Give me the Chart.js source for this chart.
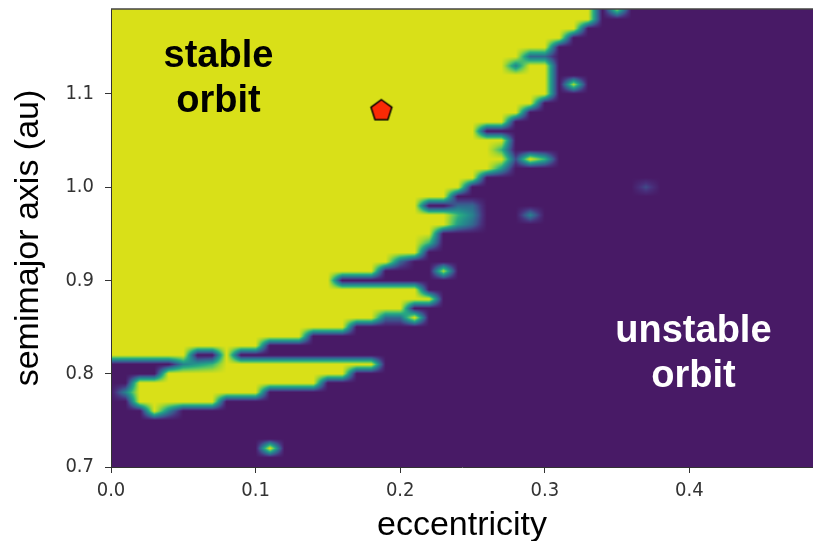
<!DOCTYPE html>
<html>
<head>
<meta charset="utf-8">
<script src="https://cdn.jsdelivr.net/npm/chart.js@4.4.0/dist/chart.umd.min.js"></script>
<style>
  html, body { margin: 0; padding: 0; background: #fff; overflow: hidden; }
  canvas { display: block; }
</style>
</head>
<body>
<canvas id="myChart" width="813" height="541"></canvas>
<script>
// grid columns (eccentricity) and rows (semimajor axis, top to bottom)
const eccentricity = [0.00, 0.01, 0.02, 0.03, 0.04, 0.05, 0.06, 0.07, 0.08, 0.09,
  0.10, 0.11, 0.12, 0.13, 0.14, 0.15, 0.16, 0.17, 0.18, 0.19,
  0.20, 0.21, 0.22, 0.23, 0.24, 0.25, 0.26, 0.27, 0.28, 0.29,
  0.30, 0.31, 0.32, 0.33, 0.34, 0.35, 0.36, 0.37, 0.38, 0.39,
  0.40, 0.41, 0.42, 0.43, 0.44, 0.45, 0.46, 0.47, 0.48, 0.49];
const semimajor = [1.19, 1.18, 1.17, 1.16, 1.15, 1.14, 1.13, 1.12, 1.11, 1.10,
  1.09, 1.08, 1.07, 1.06, 1.05, 1.04, 1.03, 1.02, 1.01, 1.00,
  0.99, 0.98, 0.97, 0.96, 0.95, 0.94, 0.93, 0.92, 0.91, 0.90,
  0.89, 0.88, 0.87, 0.86, 0.85, 0.84, 0.83, 0.82, 0.81, 0.80,
  0.79, 0.78, 0.77, 0.76, 0.75, 0.74, 0.73, 0.72, 0.71, 0.70];

// stability per cell, 0 (unstable) .. 9 (stable), one string per semimajor row
const stability = [
  "9999999999 9999999999 9999999999 9999070000 0000000000", // 1.19
  "9999999999 9999999999 9999999999 9999000000 0000000000",
  "9999999999 9999999999 9999999999 9990000000 0000000000",
  "9999999999 9999999999 9999999999 9900000000 0000000000",
  "9999999999 9999999999 9999999999 9000000000 0000000000",
  "9999999999 9999999999 9999999993 3000000000 0000000000", // 1.14
  "9999999999 9999999999 9999999949 9000000000 0000000000",
  "9999999999 9999999999 9999999999 9000000000 0000000000",
  "9999999999 9999999999 9999999999 9080000000 0000000000",
  "9999999999 9999999999 9999999999 9000000000 0000000000", // 1.10
  "9999999999 9999999999 9999999999 0000000000 0000000000",
  "9999999999 9999999999 9999999990 0000000000 0000000000",
  "9999999999 9999999999 9999999900 0000000000 0000000000",
  "9999999999 9999999999 9999990000 0000000000 0000000000",
  "9999999999 9999999999 9999999900 0000000000 0000000000", // 1.05
  "9999999999 9999999999 9999999600 0000000000 0000000000",
  "9999999999 9999999999 9999999929 6000000000 0000000000",
  "9999999999 9999999999 9999999500 0000000000 0000000000",
  "9999999999 9999999999 9999990000 0000000000 0000000000",
  "9999999999 9999999999 9999900000 0000000200 0000000000", // 1.00
  "9999999999 9999999999 9999000000 0000000000 0000000000",
  "9999999999 9999999999 9900330000 0000000000 0000000000",
  "9999999999 9999999999 9999640004 0000000000 0000000000",
  "9999999999 9999999999 9999530000 0000000000 0000000000",
  "9999999999 9999999999 9990000000 0000000000 0000000000", // 0.95
  "9999999999 9999999999 9960000000 0000000000 0000000000",
  "9999999999 9999999999 9900000000 0000000000 0000000000",
  "9999999999 9999999999 3000000000 0000000000 0000000000",
  "9999999999 9999999990 0008000000 0000000000 0000000000",
  "9999999999 9999990000 0000000000 0000000000 0000000000", // 0.90
  "9999999999 9999999999 9900000000 0000000000 0000000000",
  "9999999999 9999999999 9990000000 0000000000 0000000000",
  "9999999999 9999999999 9000000000 0000000000 0000000000",
  "9999999999 9999999993 3900000000 0000000000 0000000000",
  "9999999999 9999999000 0000000000 0000000000 0000000000", // 0.85
  "9999999999 9999000000 0000000000 0000000000 0000000000",
  "9999999999 9000000000 0000000000 0000000000 0000000000",
  "9999990090 0000000000 0000000000 0000000000 0000000000",
  "0000045699 9999999990 0000000000 0000000000 0000000000",
  "0000999999 9999999000 0000000000 0000000000 0000000000", // 0.80
  "0099999999 9999900000 0000000000 0000000000 0000000000",
  "0499999999 9000000000 0000000000 0000000000 0000000000",
  "0099999900 0000000000 0000000000 0000000000 0000000000",
  "0009400000 0000000000 0000000000 0000000000 0000000000",
  "0000000000 0000000000 0000000000 0000000000 0000000000", // 0.75
  "0000000000 0000000000 0000000000 0000000000 0000000000",
  "0000000000 0000000000 0000000000 0000000000 0000000000",
  "0000000000 0900000000 0000000000 0000000000 0000000000",
  "0000000000 0000000000 0000000000 0000000000 0000000000",
  "0000000000 0000000000 0000000000 0000000000 0000000000"  // 0.70
];

const xTicks = [0.0, 0.1, 0.2, 0.3, 0.4];
const yTicks = [0.7, 0.8, 0.9, 1.0, 1.1];

// the planet
const planetE = [0.187];
const planetA = [1.082];

// region labels
const labelLines = [["stable", "orbit"], ["unstable", "orbit"]];
const labelE = [0.0743, 0.4028];
const labelA = [1.1157, 0.8209];
const labelColor = ["#000000", "#ffffff"];

const grid = stability.map(r => r.replace(/ /g, "").split("").map(c => Number(c) / 9));

// viridis-like colour ramp as it looks in the picture
const ramp = [[72, 26, 102], [72, 48, 124], [60, 84, 140], [45, 114, 142], [36, 142, 139],
  [40, 170, 128], [92, 198, 98], [163, 215, 48], [217, 224, 24]];
const lut = [];
for (let i = 0; i < 256; i++) {
  const t = i / 255 * (ramp.length - 1);
  const k = Math.min(Math.floor(t), ramp.length - 2);
  const f = t - k;
  lut.push(ramp[k].map((c, j) => Math.round(c + (ramp[k + 1][j] - c) * f)));
}

const stabilityMap = {
  id: "stabilityMap",
  beforeDraw(chart) {
    const { ctx, chartArea: area, scales: { x, y } } = chart;
    const w = Math.round(area.right - area.left);
    const h = Math.round(area.bottom - area.top);
    const img = ctx.createImageData(w, h);
    const nC = eccentricity.length, nR = semimajor.length;
    const de = eccentricity[1] - eccentricity[0];
    const da = semimajor[1] - semimajor[0];
    const cols = [];
    for (let px = 0; px < w; px++) {
      const e = x.getValueForPixel(area.left + px + 0.5);
      const fc = Math.max(0, Math.min(nC - 1, (e - eccentricity[0]) / de));
      const c0 = Math.min(Math.floor(fc), nC - 2);
      cols.push([c0, fc - c0]);
    }
    for (let py = 0; py < h; py++) {
      const a = y.getValueForPixel(area.top + py + 0.5);
      const fr = Math.max(0, Math.min(nR - 1, (a - semimajor[0]) / da));
      const r0 = Math.min(Math.floor(fr), nR - 2);
      const tr = fr - r0;
      const g0 = grid[r0], g1 = grid[r0 + 1];
      for (let px = 0; px < w; px++) {
        const [c0, tc] = cols[px];
        const v = (g0[c0] * (1 - tc) + g0[c0 + 1] * tc) * (1 - tr) +
                  (g1[c0] * (1 - tc) + g1[c0 + 1] * tc) * tr;
        const col = lut[Math.round(v * 255)];
        const o = (py * w + px) * 4;
        img.data[o] = col[0];
        img.data[o + 1] = col[1];
        img.data[o + 2] = col[2];
        img.data[o + 3] = 255;
      }
    }
    ctx.putImageData(img, Math.round(area.left), Math.round(area.top));
  },
  afterDraw(chart) {
    const { ctx, chartArea: area, scales: { x, y } } = chart;
    ctx.save();
    // top spine
    ctx.strokeStyle = "#444";
    ctx.lineWidth = 1.5;
    ctx.beginPath();
    ctx.moveTo(area.left, area.top);
    ctx.lineTo(area.right, area.top);
    ctx.stroke();
    // region labels
    ctx.font = 'bold 38px "Liberation Sans", Arial, sans-serif';
    ctx.textAlign = "center";
    ctx.textBaseline = "middle";
    labelLines.forEach((lines, i) => {
      const cx = x.getPixelForValue(labelE[i]);
      const cy = y.getPixelForValue(labelA[i]);
      ctx.fillStyle = labelColor[i];
      lines.forEach((t, j) => ctx.fillText(t, cx, cy + (j - (lines.length - 1) / 2) * 45));
    });
    ctx.restore();
  }
};

// pentagon marker
const pentagon = document.createElement("canvas");
pentagon.width = 26;
pentagon.height = 26;
(function () {
  const p = pentagon.getContext("2d");
  p.beginPath();
  for (let k = 0; k < 5; k++) {
    const ang = -Math.PI / 2 + k * 2 * Math.PI / 5;
    const px = 13 + 11 * Math.cos(ang), py = 13 + 11 * Math.sin(ang);
    if (k === 0) p.moveTo(px, py); else p.lineTo(px, py);
  }
  p.closePath();
  p.fillStyle = "#fa2a05";
  p.fill();
  p.lineWidth = 1.5;
  p.strokeStyle = "#000";
  p.stroke();
})();

const tickFont = { family: '"DejaVu Sans Condensed", "DejaVu Sans", sans-serif', size: 20 };
const titleFont = { family: '"Liberation Sans", Arial, sans-serif', size: 34 };

const ctx = document.getElementById("myChart");

new Chart(ctx, {
  type: "scatter",
  data: {
    datasets: [
      {
        label: "planet",
        data: planetE.map((e, i) => ({ x: e, y: planetA[i] })),
        pointStyle: pentagon,
        pointRadius: 11,
      },
    ],
  },
  options: {
    responsive: false,
    animation: false,
    devicePixelRatio: 1,
    events: [],
    layout: { autoPadding: false, padding: { top: 9, left: 0, right: 0, bottom: 0 } },
    plugins: { legend: { display: false }, tooltip: { enabled: false } },
    scales: {
      x: {
        type: "linear",
        position: "bottom",
        min: 0,
        max: 0.4855,
        afterBuildTicks: s => { s.ticks = xTicks.map(v => ({ value: v })); },
        afterFit: s => { s.height = 74; s.paddingLeft = 0; s.paddingRight = 0; },
        grid: { display: true, drawOnChartArea: false, drawTicks: true, tickLength: 6, color: "#333" },
        border: { display: true, color: "#333", width: 1 },
        ticks: { font: tickFont, color: "#333", padding: 6, maxRotation: 0, callback: v => v.toFixed(1) },
        title: { display: true, text: "eccentricity", font: titleFont, color: "#000", padding: { top: 0, bottom: -5 } },
      },
      y: {
        type: "linear",
        position: "left",
        min: 0.7,
        max: 1.191,
        afterBuildTicks: s => { s.ticks = yTicks.map(v => ({ value: v })); },
        afterFit: s => { s.width = 111; s.paddingTop = 0; s.paddingBottom = 0; },
        grid: { display: true, drawOnChartArea: false, drawTicks: true, tickLength: 6, color: "#333" },
        border: { display: true, color: "#333", width: 1 },
        ticks: { font: tickFont, color: "#333", padding: 11, callback: v => v.toFixed(1) },
        title: { display: true, text: "semimajor axis (au)", font: titleFont, color: "#000", padding: { top: 8, bottom: 0 } },
      },
    },
  },
  plugins: [stabilityMap],
});
</script>
</body>
</html>
